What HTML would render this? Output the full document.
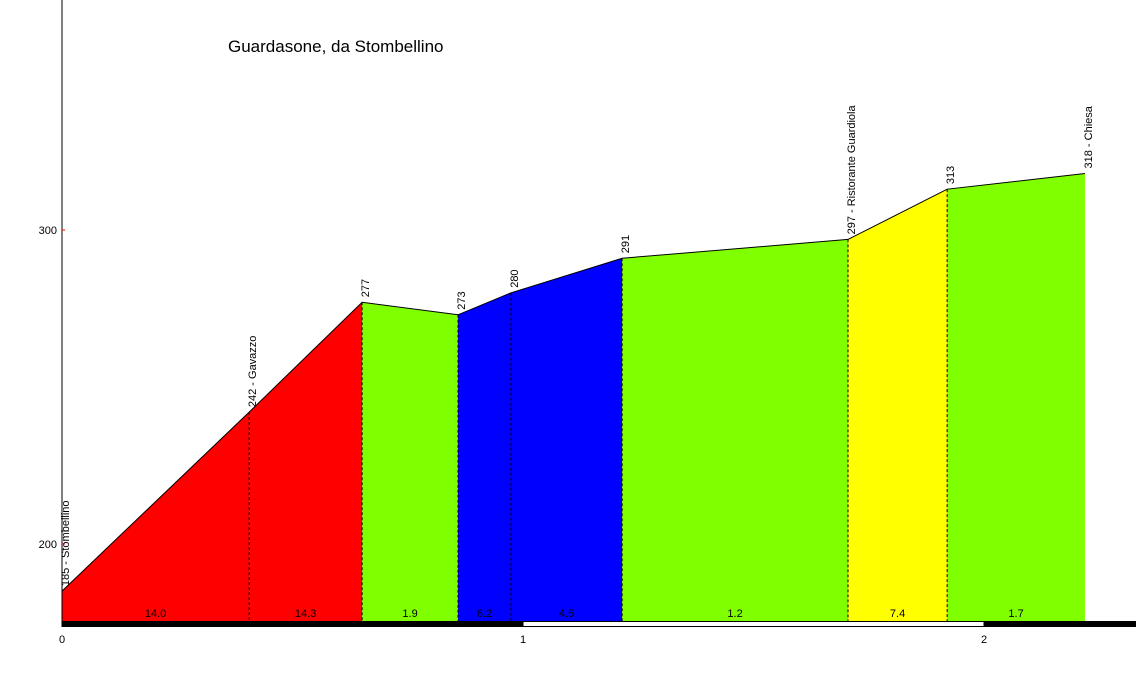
<!DOCTYPE html>
<html><head><meta charset="utf-8"><style>
html,body{margin:0;padding:0;background:#fff;}
svg{display:block;font-family:"Liberation Sans",sans-serif;}
</style></head><body>
<svg id="c" width="1136" height="673">
<text x="228" y="52" font-size="17">Guardasone, da Stombellino</text>
<g id="fills"></g><g id="marks"></g>
<line x1="62" y1="0" x2="62" y2="622" stroke="#000" stroke-width="1"/>
<g id="axis"></g>
</svg>
<script>
const dist = [0, 0.406, 0.651, 0.859, 0.974, 1.215, 1.705, 1.920, 2.219];
const elev = [185, 242, 277, 273, 280, 291, 297, 313, 318];
const names = ["185 - Stombellino","242 - Gavazzo","277","273","280","291","297 - Ristorante Guardiola","313","318 - Chiesa"];
const segLabels = ["14.0","14.3","1.9","6.2","4.5","1.2","7.4","1.7"];
const segColors = ["#ff0000","#ff0000","#80ff00","#0000ff","#0000ff","#80ff00","#ffff00","#80ff00"];
const yTicks = [200, 300];
const xTicks = [0, 1, 2];
const NS="http://www.w3.org/2000/svg";
const X = km => 62 + 461*km;
const Y = e => 544 - (e-200)*3.14;
const BASE = 621;
function mk(tag, attrs, parent){const el=document.createElementNS(NS,tag);for(const k in attrs)el.setAttribute(k,attrs[k]);parent.appendChild(el);return el;}
const fills=document.getElementById('fills'), marks=document.getElementById('marks'), axis=document.getElementById('axis');
for(let i=0;i<dist.length-1;i++){
  const x1=X(dist[i]),x2=X(dist[i+1]),y1=Y(elev[i]),y2=Y(elev[i+1]);
  const p=mk('polygon',{points:`${x1},${BASE} ${x1},${y1} ${x2},${y2} ${x2},${BASE}`,fill:segColors[i]},fills);
  
  
  const t=mk('text',{x:(x1+x2)/2,y:617,'font-size':11,'text-anchor':'middle'},marks);
  t.textContent=segLabels[i];
  
  
}
let pts=dist.map((d,i)=>X(d)+','+Y(elev[i])).join(' ');
const pl=mk('polyline',{points:pts,fill:'none',stroke:'#000','stroke-width':1},marks);


for(let i=0;i<dist.length;i++){
  const x=X(dist[i]),y=Y(elev[i]);
  if(i>0&&i<dist.length-1){
    const l=mk('line',{x1:x,y1:y,x2:x,y2:BASE,stroke:'#000','stroke-dasharray':'3,2','stroke-width':1},marks);
    
    
  }
  const t=mk('text',{x:0,y:0,'font-size':11,transform:`translate(${x+7},${y-5}) rotate(-90)`},marks);
  t.textContent=names[i];
  
  
}
yTicks.forEach(v=>{
  const y=Y(v);
  const l=mk('line',{x1:62,y1:y,x2:65,y2:y,stroke:'#ff0000'},axis);
  
  
  const t=mk('text',{x:57,y:y+4,'font-size':11,'text-anchor':'end'},axis);
  t.textContent=v;
  
  
});
// distance bar
for(let k=0;k<3;k++){
  const x1=X(k), x2=Math.min(X(k+1),1136);
  const r=mk('rect',{x:x1,y:BASE+0.5,width:x2-x1,height:5,fill:k%2?'#fff':'#000',stroke:'#000','stroke-width':1},axis);
  
  
}
xTicks.forEach(v=>{
  const t=mk('text',{x:X(v),y:643,'font-size':11,'text-anchor':'middle'},axis);
  t.textContent=v;
  
  
});
</script>
</body></html>
